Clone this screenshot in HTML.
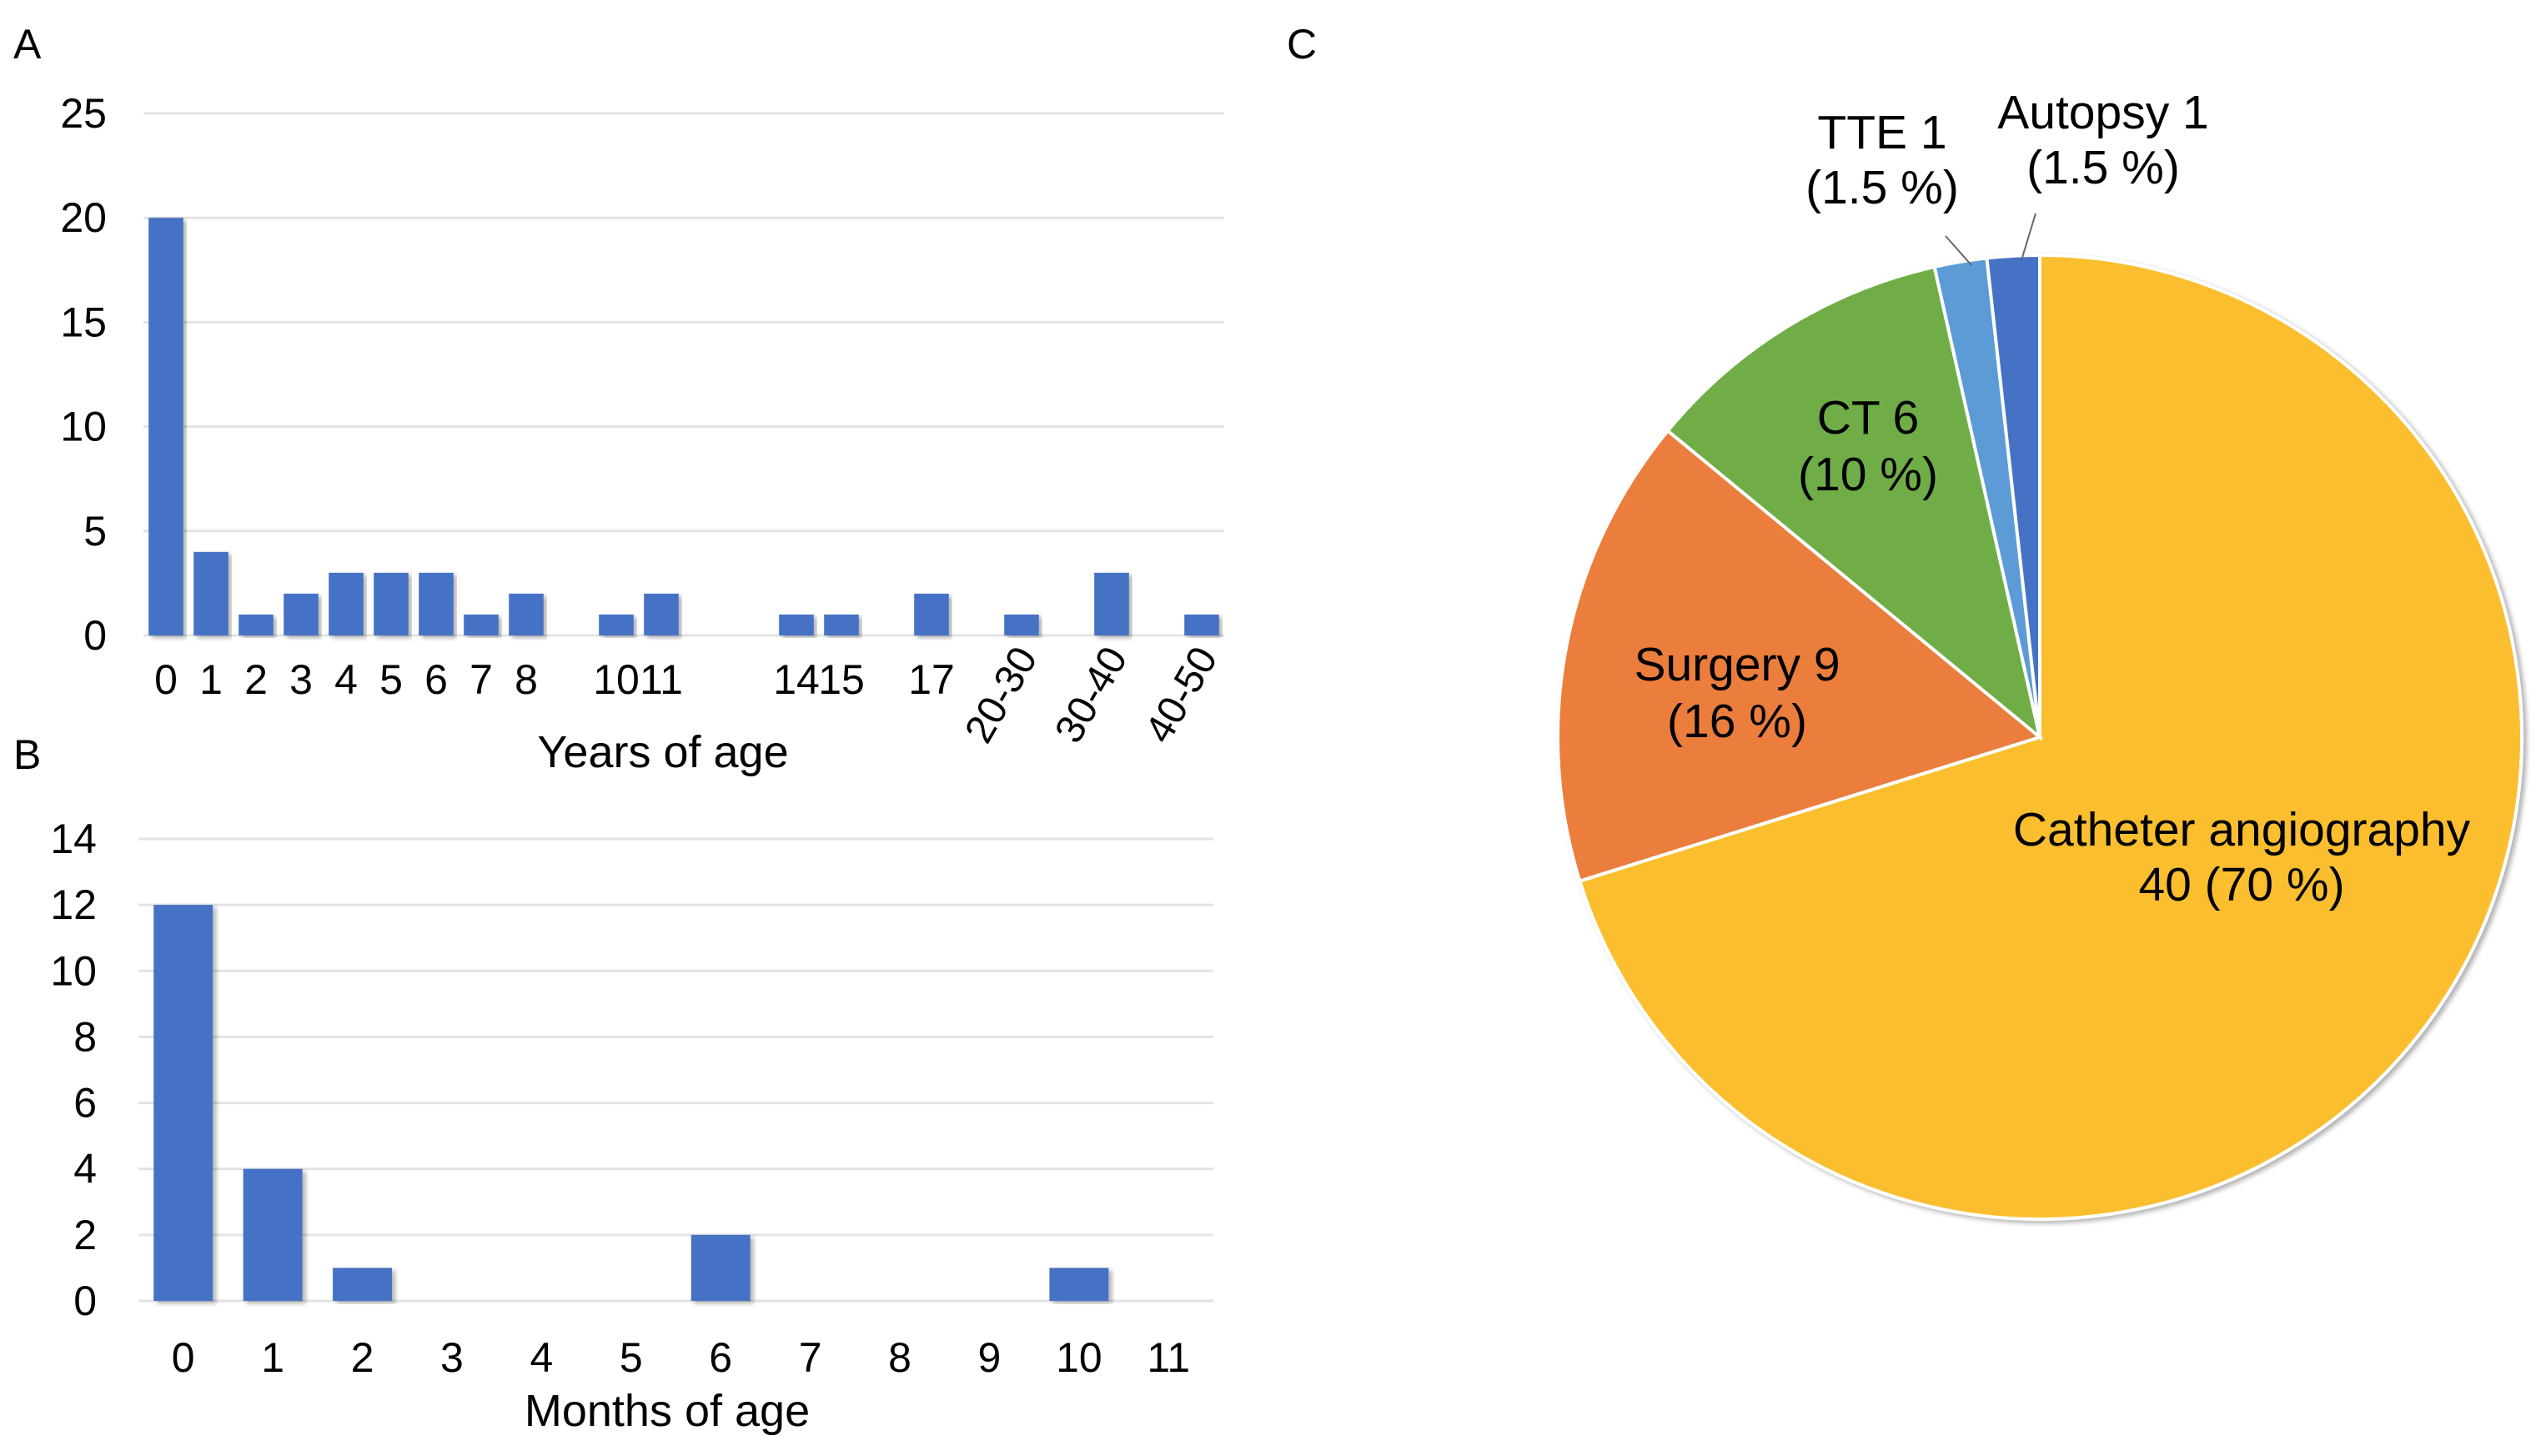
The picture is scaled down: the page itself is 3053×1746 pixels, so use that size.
<!DOCTYPE html>
<html><head><meta charset="utf-8"><style>
html,body{margin:0;padding:0;background:#fff;}
svg{display:block;font-family:"Liberation Sans",sans-serif;}
</style></head><body>
<svg id="fig" width="3053" height="1746" viewBox="0 0 3053 1746" xmlns="http://www.w3.org/2000/svg">
<defs><filter id="sh" x="-5%" y="-5%" width="115%" height="115%"><feDropShadow dx="4" dy="3" stdDeviation="3" flood-color="#000" flood-opacity="0.3"/></filter></defs>
<text x="16" y="70" font-size="50">A</text>
<text x="16" y="922" font-size="50">B</text>
<text x="1543" y="70" font-size="50">C</text>
<g id="chartA"></g>
<g id="chartB"></g>
<g id="chartC"></g>
</svg>
<script>
const yearsCats = ["0","1","2","3","4","5","6","7","8","","10","11","","","14","15","","17","","20-30","","30-40","","40-50"];
const yearsVals = [20,4,1,2,3,3,3,1,2,0,1,2,0,0,1,1,0,2,0,1,0,3,0,1];
const yearsTicks = [0,5,10,15,20,25];
const monthsCats = ["0","1","2","3","4","5","6","7","8","9","10","11"];
const monthsVals = [12,4,1,0,0,0,2,0,0,0,1,0];
const monthsTicks = [0,2,4,6,8,10,12,14];
const pieLabels = ["Catheter angiography","Surgery","CT","TTE","Autopsy"];
const pieVals = [40,9,6,1,1];
const piePct = ["70 %","16 %","10 %","1.5 %","1.5 %"];

const NS="http://www.w3.org/2000/svg";
function mk(parent,tag,attrs,text){const e=document.createElementNS(NS,tag);for(const k in attrs)e.setAttribute(k,attrs[k]);if(text!==undefined)e.textContent=text;parent.appendChild(e);return e;}

function barChart(g,cats,vals,ticks,o){
  const n=cats.length, slot=(o.right-o.left)/n, max=ticks[ticks.length-1];
  const y=v=>o.bottom-(o.bottom-o.top)*v/max;
  const x=i=>o.left+slot*(i+0.5);
  ticks.forEach(t=>{
    const l=mk(g,'line',{x1:o.left,x2:o.right,y1:y(t),y2:y(t),stroke:'#e3e3e3','stroke-width':3});
    
    
    const tx=mk(g,'text',{x:o.ylabX,y:y(t)+17,'font-size':50,'text-anchor':'end'},t);
    
    
  });
  vals.forEach((v,i)=>{
    if(v>0){const w=slot*o.bw;
      const r=mk(g,'rect',{x:x(i)-w/2,y:y(v),width:w,height:y(0)-y(v),fill:'#4472C4',filter:'url(#sh)'});
      
      }
  });
  cats.forEach((c,i)=>{
    if(!c)return;
    let t;
    if(o.rot && c.indexOf('-')>0){
      t=mk(g,'text',{x:0,y:0,'font-size':48,'text-anchor':'end',transform:`translate(${x(i)+20},${o.bottom+26}) rotate(-60)`},c);
    } else {
      t=mk(g,'text',{x:x(i),y:o.labY,'font-size':50,'text-anchor':'middle'},c);
    }
    
    
  });
  const ti=mk(g,'text',{x:o.titleX,y:o.titleY,'font-size':54,'text-anchor':'middle'},o.title);
  
  
}
barChart(document.getElementById('chartA'),yearsCats,yearsVals,yearsTicks,{left:172,right:1468,top:136,bottom:762,ylabX:128,labY:832,bw:0.77,rot:true,title:"Years of age",titleX:795,titleY:920});
barChart(document.getElementById('chartB'),monthsCats,monthsVals,monthsTicks,{left:166,right:1455,top:1006,bottom:1560,ylabX:116,labY:1645,bw:0.66,rot:false,title:"Months of age",titleX:800,titleY:1710});

// Pie
const gC=document.getElementById('chartC');
const cx=2446, cy=884, R=578;
const colors=["#FBBE2E","#EB7D3C","#70AD47","#5B9BD5","#4472C4"];
const total=pieVals.reduce((a,b)=>a+b,0);
const pt=(a,r)=>[cx+r*Math.sin(a), cy-r*Math.cos(a)];
let acc=0;
const gs=mk(gC,'g',{filter:'url(#sh)'});
pieVals.forEach((v,i)=>{
  const a0=acc/total*2*Math.PI; acc+=v; const a1=acc/total*2*Math.PI;
  const p0=pt(a0,R), p1=pt(a1,R), large=(a1-a0)>Math.PI?1:0;
  const p=mk(gs,'path',{d:`M${cx},${cy} L${p0[0]},${p0[1]} A${R},${R} 0 ${large} 1 ${p1[0]},${p1[1]} Z`,fill:colors[i],stroke:'#fff','stroke-width':4});
  
  
});
const labelPos=[[2688,1014,1080],[2083,816,884],[2240,520,588],[2257,178,244],[2522,154,220]];
pieVals.forEach((v,i)=>{
  const [lx,l1,l2]=labelPos[i];
  const first = i===0 ? pieLabels[i] : pieLabels[i]+' '+v;
  const second = i===0 ? v+' ('+piePct[i]+')' : '('+piePct[i]+')';
  const t1=mk(gC,'text',{x:lx,y:l1,'font-size':57,'text-anchor':'middle'},first);
  
  
  const t2=mk(gC,'text',{x:lx,y:l2,'font-size':57,'text-anchor':'middle'},second);
  
  
});
const ld1=mk(gC,'line',{x1:2333,y1:283,x2:2364,y2:318,stroke:'#666','stroke-width':2});


const ld2=mk(gC,'line',{x1:2441,y1:256,x2:2424,y2:312,stroke:'#666','stroke-width':2});


</script>
</body></html>
